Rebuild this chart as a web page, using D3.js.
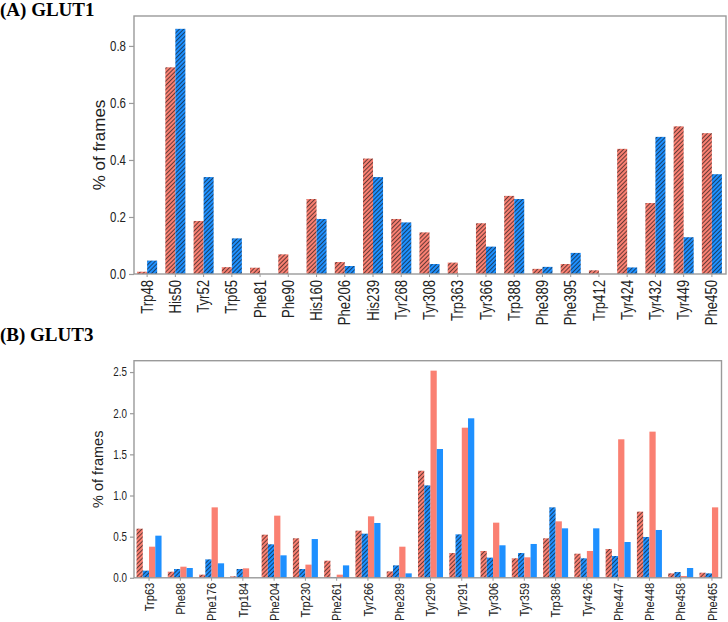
<!DOCTYPE html>
<html>
<head>
<meta charset="utf-8">
<script src="https://cdn.jsdelivr.net/npm/d3@7"></script>
<style>
  body { margin: 0; background: #fff; }
  .lbl { font-family: "Liberation Sans", Arial, sans-serif; fill: #222; }
  .title { font-family: "Liberation Serif", "Times New Roman", serif; font-weight: bold; font-size: 19px; fill: #000; }
</style>
</head>
<body>
<svg id="chart" width="728" height="622"></svg>
<script>
// (A) GLUT1
const glut1Residues = ["Trp48", "His50", "Tyr52", "Trp65", "Phe81", "Phe90", "His160", "Phe206", "His239", "Tyr268",
  "Tyr308", "Trp363", "Tyr366", "Trp388", "Phe389", "Phe395", "Trp412", "Tyr424", "Tyr432", "Tyr449", "Phe450"];
const glut1Red  = [0.008, 0.725, 0.186, 0.024, 0.022, 0.069, 0.263, 0.042, 0.405, 0.193,
  0.146, 0.040, 0.178, 0.274, 0.018, 0.035, 0.013, 0.439, 0.249, 0.518, 0.494];
const glut1Blue = [0.047, 0.860, 0.340, 0.125, 0, 0, 0.193, 0.028, 0.340, 0.181,
  0.035, 0, 0.096, 0.263, 0.025, 0.074, 0, 0.023, 0.481, 0.129, 0.350];
const glut1Ticks = [0, 0.2, 0.4, 0.6, 0.8];

// (B) GLUT3
const glut3Residues = ["Trp63", "Phe88", "Phe176", "Trp184", "Phe204", "Trp230", "Phe261", "Tyr266", "Phe289", "Tyr290",
  "Tyr291", "Tyr306", "Tyr359", "Trp386", "Tyr426", "Phe447", "Phe448", "Phe458", "Phe465"];
const glut3RedHatch  = [0.597, 0.074, 0.038, 0.018, 0.524, 0.480, 0.208, 0.573, 0.078, 1.301,
  0.301, 0.326, 0.237, 0.480, 0.293, 0.350, 0.804, 0.054, 0.062];
const glut3BlueHatch = [0.087, 0.107, 0.224, 0.107, 0.407, 0.107, 0.010, 0.536, 0.151, 1.123,
  0.528, 0.245, 0.301, 0.856, 0.237, 0.265, 0.496, 0.070, 0.054];
const glut3Red  = [0.378, 0.135, 0.856, 0.115, 0.755, 0.160, 0.038, 0.747, 0.378, 2.517,
  1.824, 0.670, 0.249, 0.686, 0.326, 1.683, 1.776, 0.022, 0.856];
const glut3Blue = [0.512, 0.119, 0.176, 0, 0.273, 0.471, 0.151, 0.666, 0.054, 1.565,
  1.938, 0.395, 0.411, 0.601, 0.601, 0.435, 0.581, 0.119, 0];
const glut3Ticks = [0, 0.5, 1.0, 1.5, 2.0, 2.5];

const red = "#FA8072";
const blue = "#1E90FF";
const frameColor = "#9a9a9a";
const narrow = 0.82;   // labels in the figure use a condensed face

const svg = d3.select("#chart");
const defs = svg.append("defs");

// diagonal hatch fills
[["hatchRed", red], ["hatchBlue", blue]].forEach(([id, c]) => {
  const s = 3.0;
  const p = defs.append("pattern")
    .attr("id", id)
    .attr("patternUnits", "userSpaceOnUse")
    .attr("width", s).attr("height", s)
    .attr("patternTransform", "rotate(45)");
  p.append("rect").attr("width", s).attr("height", s).attr("fill", c);
  p.append("line")
    .attr("x1", 0.4).attr("y1", 0).attr("x2", 0.4).attr("y2", s)
    .attr("stroke", "#111").attr("stroke-width", 0.7);
});

function drawPanel(o) {
  const g = svg.append("g");
  const x = d3.scaleBand().domain(o.residues).range(o.bandRange).paddingInner(o.padding).paddingOuter(o.padding / 2);
  const inner = d3.scaleBand().domain(d3.range(o.series.length)).range([0, x.bandwidth()]);
  const y = d3.scaleLinear().domain([0, o.yMax]).range([o.bottom, o.top]);

  // bars
  o.series.forEach((s, k) => {
    g.append("g").selectAll("rect")
      .data(s.values)
      .join("rect")
      .attr("x", (d, i) => x(o.residues[i]) + inner(k))
      .attr("width", inner.bandwidth())
      .attr("y", d => y(d))
      .attr("height", d => y(0) - y(d))
      .attr("fill", s.fill);
  });

  // frame
  g.append("rect")
    .attr("x", o.left).attr("y", o.top)
    .attr("width", o.right - o.left).attr("height", o.bottom - o.top)
    .attr("fill", "none").attr("stroke", frameColor).attr("stroke-width", 1.4);

  // y axis
  const yAxis = d3.axisLeft(y).tickValues(o.ticks).tickFormat(d3.format(".1f")).tickSize(o.tickLen);
  const ya = g.append("g").attr("transform", `translate(${o.left},0)`).call(yAxis);
  ya.select(".domain").remove();
  ya.selectAll(".tick line").attr("stroke", frameColor).attr("stroke-width", 1.2);
  ya.selectAll(".tick text")
    .attr("class", "lbl")
    .style("font-size", o.yFont + "px")
    .attr("x", -(o.tickLen + 3) / narrow)
    .attr("transform", `scale(${narrow},1)`);

  // x axis
  const xAxis = d3.axisBottom(x).tickSize(3);
  const xa = g.append("g").attr("transform", `translate(0,${o.bottom})`).call(xAxis);
  xa.select(".domain").remove();
  xa.selectAll(".tick line").attr("stroke", frameColor);
  xa.selectAll(".tick text")
    .attr("class", "lbl")
    .style("font-size", o.xFont + "px")
    .attr("text-anchor", "end")
    .attr("transform", `rotate(-90) scale(${narrow},1)`)
    .attr("x", -o.xPad / narrow)
    .attr("y", 0)
    .attr("dy", "0.35em");

  // y title
  g.append("text")
    .attr("class", "lbl")
    .attr("transform", `translate(${o.yTitleX},${(o.top + o.bottom) / 2}) rotate(-90)`)
    .attr("text-anchor", "middle")
    .style("font-size", o.yTitleFont + "px")
    .text("% of frames");

  // panel title
  svg.append("text").attr("class", "title").attr("x", 0).attr("y", o.titleY).text(o.title);
}

drawPanel({
  title: "(A) GLUT1", titleY: 16,
  residues: glut1Residues,
  series: [
    { values: glut1Red, fill: "url(#hatchRed)" },
    { values: glut1Blue, fill: "url(#hatchBlue)" }
  ],
  bandRange: [133, 726], padding: 0.29,
  left: 134, right: 726, top: 16, bottom: 274, yMax: 0.905,
  ticks: glut1Ticks, tickLen: 5, yFont: 14, xFont: 16, xPad: 6,
  yTitleX: 105, yTitleFont: 17
});

drawPanel({
  title: "(B) GLUT3", titleY: 341,
  residues: glut3Residues,
  series: [
    { values: glut3RedHatch, fill: "url(#hatchRed)" },
    { values: glut3BlueHatch, fill: "url(#hatchBlue)" },
    { values: glut3Red, fill: red },
    { values: glut3Blue, fill: blue }
  ],
  bandRange: [133.4, 727.6], padding: 0.2,
  left: 134, right: 721.5, top: 360.7, bottom: 577.8, yMax: 2.638,
  ticks: glut3Ticks, tickLen: 4, yFont: 12, xFont: 13.5, xPad: 5,
  yTitleX: 103, yTitleFont: 14.5
});
</script>
</body>
</html>
